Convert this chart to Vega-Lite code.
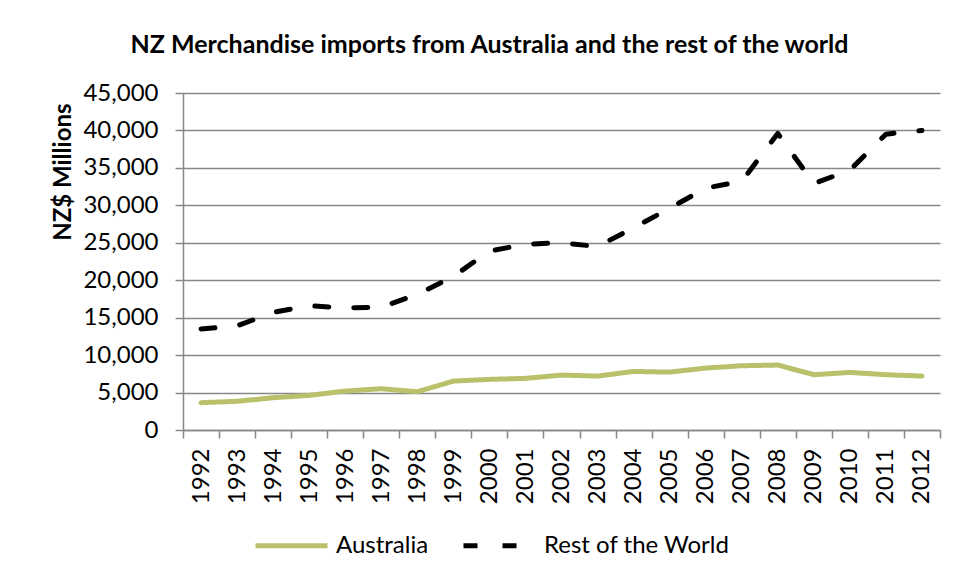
{
  "$schema": "https://vega.github.io/schema/vega-lite/v6.json",
  "autosize": "none",
  "width": 757,
  "height": 337,
  "padding": {"left": 183, "top": 93, "right": 19, "bottom": 150},
  "background": "white",
  "title": {
    "text": "NZ Merchandise imports from Australia and the rest of the world",
    "font": "Lato",
    "fontSize": 25,
    "fontWeight": "bold",
    "color": "#000000",
    "anchor": "middle",
    "dx": -72,
    "offset": 23
  },
  "data": {
    "values": [
      {"year": "1992", "series": "Australia", "value": 3650},
      {"year": "1993", "series": "Australia", "value": 3830},
      {"year": "1994", "series": "Australia", "value": 4310},
      {"year": "1995", "series": "Australia", "value": 4620},
      {"year": "1996", "series": "Australia", "value": 5200},
      {"year": "1997", "series": "Australia", "value": 5510},
      {"year": "1998", "series": "Australia", "value": 5110},
      {"year": "1999", "series": "Australia", "value": 6530},
      {"year": "2000", "series": "Australia", "value": 6760},
      {"year": "2001", "series": "Australia", "value": 6890},
      {"year": "2002", "series": "Australia", "value": 7330},
      {"year": "2003", "series": "Australia", "value": 7200},
      {"year": "2004", "series": "Australia", "value": 7820},
      {"year": "2005", "series": "Australia", "value": 7730},
      {"year": "2006", "series": "Australia", "value": 8270},
      {"year": "2007", "series": "Australia", "value": 8580},
      {"year": "2008", "series": "Australia", "value": 8670},
      {"year": "2009", "series": "Australia", "value": 7380},
      {"year": "2010", "series": "Australia", "value": 7690},
      {"year": "2011", "series": "Australia", "value": 7380},
      {"year": "2012", "series": "Australia", "value": 7200},
      {"year": "1992", "series": "Rest of the World", "value": 13500},
      {"year": "1993", "series": "Rest of the World", "value": 13900},
      {"year": "1994", "series": "Rest of the World", "value": 15700},
      {"year": "1995", "series": "Rest of the World", "value": 16600},
      {"year": "1996", "series": "Rest of the World", "value": 16300},
      {"year": "1997", "series": "Rest of the World", "value": 16400},
      {"year": "1998", "series": "Rest of the World", "value": 18100},
      {"year": "1999", "series": "Rest of the World", "value": 20500},
      {"year": "2000", "series": "Rest of the World", "value": 23900},
      {"year": "2001", "series": "Rest of the World", "value": 24800},
      {"year": "2002", "series": "Rest of the World", "value": 25000},
      {"year": "2003", "series": "Rest of the World", "value": 24500},
      {"year": "2004", "series": "Rest of the World", "value": 27000},
      {"year": "2005", "series": "Rest of the World", "value": 29600},
      {"year": "2006", "series": "Rest of the World", "value": 32300},
      {"year": "2007", "series": "Rest of the World", "value": 33200},
      {"year": "2008", "series": "Rest of the World", "value": 39600},
      {"year": "2009", "series": "Rest of the World", "value": 32900},
      {"year": "2010", "series": "Rest of the World", "value": 34700},
      {"year": "2011", "series": "Rest of the World", "value": 39500},
      {"year": "2012", "series": "Rest of the World", "value": 40000}
    ]
  },
  "mark": {"type": "line", "strokeWidth": 5, "strokeCap": "round", "strokeJoin": "round"},
  "encoding": {
    "x": {
      "field": "year",
      "type": "ordinal",
      "bandPosition": 0.5,
      "scale": {"type": "band", "paddingInner": 0, "paddingOuter": 0},
      "axis": {
        "title": null,
        "labelAngle": 270,
        "labelAlign": "right",
        "labelBaseline": "middle",
        "labelPadding": 10,
        "tickBand": "extent",
        "tickSize": 8,
        "grid": false
      }
    },
    "y": {
      "field": "value",
      "type": "quantitative",
      "scale": {"domain": [0, 45000], "nice": false},
      "axis": {
        "title": "NZ$ Millions",
        "titleFontWeight": "bold",
        "titleAnchor": "end",
        "titleY": 10,
        "titlePadding": 7,
        "values": [0, 5000, 10000, 15000, 20000, 25000, 30000, 35000, 40000, 45000],
        "format": ",.0f",
        "tickSize": 8,
        "labelPadding": 17,
        "grid": true
      }
    },
    "color": {
      "field": "series",
      "type": "nominal",
      "scale": {"domain": ["Australia", "Rest of the World"], "range": ["#B9C26B", "#000000"]},
      "legend": {"title": null}
    },
    "strokeDash": {
      "field": "series",
      "type": "nominal",
      "scale": {"domain": ["Australia", "Rest of the World"], "range": [[1, 0], [14, 25]]},
      "legend": {"title": null}
    },
    "order": {"field": "year"}
  },
  "config": {
    "font": "Lato",
    "view": {"stroke": null},
    "axis": {
      "labelFont": "Lato",
      "labelFontSize": 24,
      "labelColor": "#000000",
      "titleFont": "Lato",
      "titleFontSize": 24,
      "titleColor": "#000000",
      "domainColor": "#878787",
      "domainWidth": 1.5,
      "tickColor": "#878787",
      "tickWidth": 1.5,
      "gridColor": "#878787",
      "gridWidth": 1.5
    },
    "legend": {
      "orient": "none",
      "legendX": 70,
      "legendY": 414,
      "direction": "horizontal",
      "symbolType": "stroke",
      "symbolSize": 5184,
      "symbolStrokeWidth": 5,
      "labelFont": "Lato",
      "labelFontSize": 24,
      "labelColor": "#000000",
      "labelOffset": 6,
      "labelLimit": 400,
      "columnPadding": 24
    }
  }
}
